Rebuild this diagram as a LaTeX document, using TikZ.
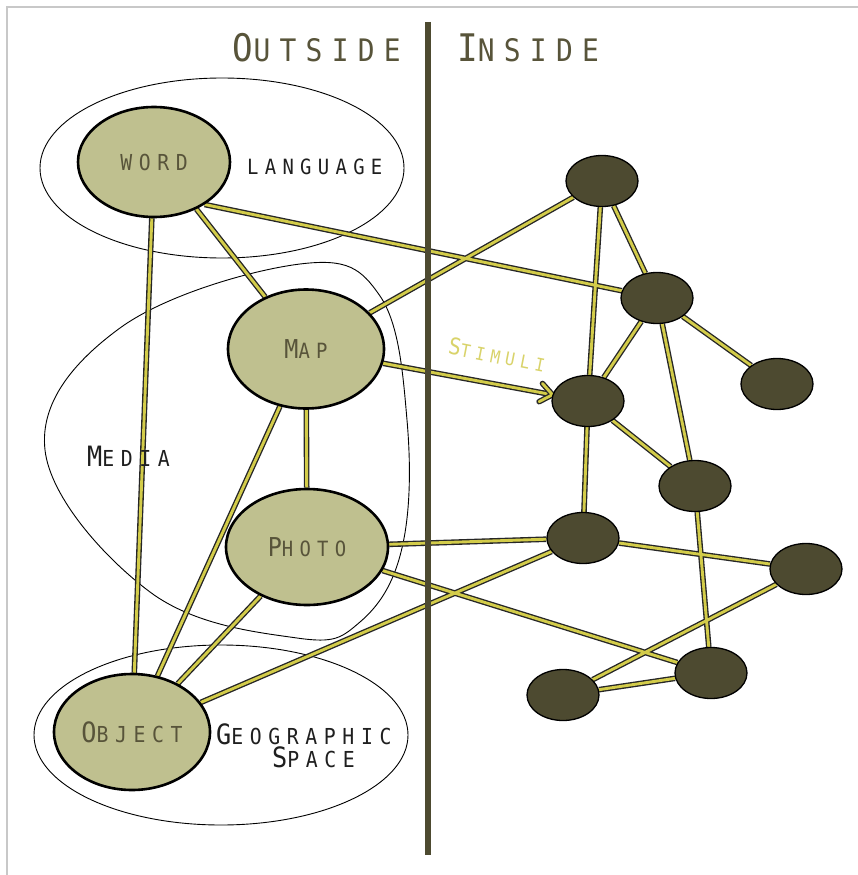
\documentclass[tikz,border=0pt]{standalone}
\usepackage{fontspec}
\usetikzlibrary{shapes.geometric,calc}
\newfontfamily\lblfont[FakeStretch=0.9,LetterSpace=30]{DejaVu Sans Mono}
% small-caps look: first size for capitals, second for the rest
\newcommand\smc[4]{{\fontsize{#1}{#1}\selectfont #3}{\fontsize{#2}{#2}\selectfont #4}}
\definecolor{olivedark}{HTML}{4D4A30}
\definecolor{olivelight}{HTML}{BFC08F}
\definecolor{olivetext}{HTML}{58543A}
\definecolor{edgeyellow}{HTML}{D3CC4A}
\definecolor{stimcol}{HTML}{D9D36A}
\definecolor{framegrey}{HTML}{C8C8C8}
\pgfdeclarelayer{bg}
\pgfsetlayers{bg,main}
\begin{document}
\begin{tikzpicture}[x=1pt,y=-1pt,
  every node/.style={font=\lblfont},
  concept/.style={ellipse,draw=black,line width=2.6pt,fill=olivelight,
    inner sep=0pt,text=olivetext},
  neuron/.style={ellipse,draw=black,line width=1.3pt,fill=olivedark,
    inner sep=0pt,minimum width=72pt,minimum height=51pt},
  region/.style={draw=black,line width=0.9pt},
  edge/.style={draw=black!85,line width=1.35pt,double=edgeyellow,
    double distance=2.9pt,line join=round},
  regionlabel/.style={text=black!88,inner sep=0pt}]
\useasboundingbox (0,0) rectangle (858,875);

% concept nodes
\node[concept,minimum width=152pt,minimum height=110pt] (word) at (154,162)
  {\smc{22}{22}{}{WORD}};
\node[concept,minimum width=156pt,minimum height=119pt] (map) at (306,349)
  {\smc{26}{21}{M}{AP}};
\node[concept,minimum width=162pt,minimum height=116pt] (photo) at (307,547)
  {\smc{26}{21}{P}{HOTO}};
\node[concept,minimum width=156pt,minimum height=116pt] (object) at (132,732)
  {\smc{28}{22}{O}{BJECT}};

% neuron nodes
\node[neuron] (n1) at (602,181) {};
\node[neuron] (n2) at (657,298) {};
\node[neuron] (n3) at (588,401) {};
\node[neuron] (n4) at (777,384) {};
\node[neuron] (n5) at (695,486) {};
\node[neuron] (n6) at (583,538) {};
\node[neuron] (n7) at (806,569) {};
\node[neuron] (n8) at (711,673) {};
\node[neuron] (n9) at (563,695) {};

\begin{pgfonlayer}{bg}
  \fill[white] (0,0) rectangle (858,875);
  % frame
  \draw[framegrey,line width=1.2pt] (7,875) -- (7,7) -- (858,7);
  % region outlines
  \draw[region] (222,168) ellipse [x radius=182,y radius=90];
  \draw[region] (221,735) ellipse [x radius=187,y radius=90];
  \draw[region] plot[smooth cycle,tension=0.65] coordinates
    {(45,450) (120,328) (300,264) (380,296) (407,420) (402,548) (360,622) (297,638) (150,592)};
  % connectors
  \coordinate (tip) at (n3.170);
  \path[edge]
    (word.-48) -- (map)
    (word) -- (object)
    (word.-40) -- (n2)
    (map) -- (n1)
    (map) -- (photo)
    (map) -- (object)
    (photo) -- (object)
    (photo) -- (n6)
    (photo) -- (n8)
    (object) -- (n6)
    (n1) -- (n3)
    (n1) -- (n2)
    (n2) -- (n3)
    (n2) -- (n4)
    (n2) -- (n5)
    (n3) -- (n5)
    (n3) -- (n6)
    (n5) -- (n8)
    (n6) -- (n7)
    (n7) -- (n9)
    (n9) -- (n8)
    (map) -- (tip);
  \path[edge,line cap=round]
    ($(tip)!15pt!38:(map)$) -- (tip) -- ($(tip)!15pt!-38:(map)$);
\end{pgfonlayer}

% region labels
\node[regionlabel,anchor=west] (lang) at (247,167) {\smc{21}{21}{}{LANGUAGE}};
\node[regionlabel,anchor=west] (media) at (87,456) {\smc{28}{22}{M}{EDIA}};
\node[regionlabel,anchor=west] (geo) at (216,734) {\smc{28}{22}{G}{EOGRAPHIC}};
\node[regionlabel,anchor=west] (space) at (272,757) {\smc{28}{22}{S}{PACE}};
\node[text=stimcol,rotate=-11,inner sep=0pt] (stim) at (497,355)
  {\smc{23}{18}{S}{TIMULI}};

% divider and headings
\draw[olivedark,line width=6pt] (428,22) -- (428,855);
\node[text=olivetext,anchor=east,inner sep=0pt] (outside) at (401,48)
  {\smc{38}{31}{O}{UTSIDE}};
\node[text=olivetext,anchor=west,inner sep=0pt] (inside) at (457,48)
  {\smc{38}{31}{I}{NSIDE}};
\end{tikzpicture}
\end{document}
